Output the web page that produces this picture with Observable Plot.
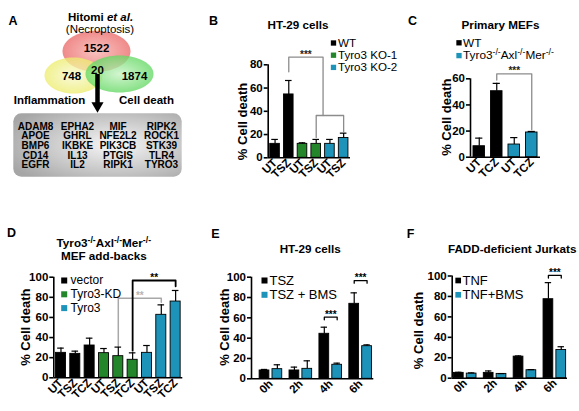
<!DOCTYPE html>
<html>
<head>
<meta charset="utf-8">
<script src="https://cdn.jsdelivr.net/npm/d3@7"></script>
<script src="https://cdn.jsdelivr.net/npm/@observablehq/plot@0.6"></script>
<style>
  html, body { margin: 0; padding: 0; background: #fff; }
  #fig { position: relative; width: 579px; height: 411px; overflow: hidden; background: #fff; }
  #fig svg { position: absolute; left: 0; top: 0; overflow: visible; }
</style>
</head>
<body>
<div id="fig"></div>
<script>
// ===================== DATA =====================
// Panel A – Venn overlap of gene sets
const vennTitle = "Hitomi ~et al.~";
const vennSubtitle = "(Necroptosis)";
const vennCounts = [1522, 748, 1874];          // Necroptosis, Inflammation, Cell death
const vennCore = 20;
const vennSetLabels = ["Inflammation", "Cell death"];
const genes = ["ADAM8","APOE","BMP6","CD14","EGFR",
               "EPHA2","GHRL","IKBKE","IL13","IL2",
               "MIF","NFE2L2","PIK3CB","PTGIS","RIPK1",
               "RIPK2","ROCK1","STK39","TLR4","TYRO3"];

// Panel B – HT-29 cells
const bTitle = "HT-29 cells";
const bSeries = ["WT", "Tyro3 KO-1", "Tyro3 KO-2"];
const bTreat = ["UT", "TSZ"];
const bMeans = [[12, 54.5], [12, 12], [12, 17]];
const bErr   = [[3.8, 12], [0.9, 3.8], [3.8, 4.2]];
const bBrackets = [[[1.5, 74], [1.5, 86.6], [4, 86.6], [4, 36.4]],
                   [[3.5, 17.5], [3.5, 36.4], [5.5, 36.4], [5.5, 22]]];
const bStars = [{x: 2.75, y: 86.6, text: "***"}];

// Panel C – Primary MEFs
const cTitle = "Primary MEFs";
const cSeries = ["WT", "Tyro3^-/-^Axl^-/-^Mer^-/-^"];
const cTreat = ["UT", "TCZ"];
const cMeans = [[8.4, 50.5], [9.7, 18.9]];
const cErr   = [[6.2, 6], [5.3, 0.8]];
const cBrackets = [[[1.5, 59], [1.5, 63.8], [3.5, 63.8], [3.5, 21]]];
const cStars = [{x: 2.5, y: 63.8, text: "***"}];

// Panel D – MEF add-backs
const dTitle = ["Tyro3^-/-^Axl^-/-^Mer^-/-^", "MEF add-backs"];
const dSeries = ["vector", "Tyro3-KD", "Tyro3"];
const dTreat = ["UT", "TSZ", "TCZ"];
const dMeans = [[24.8, 23.8, 32.1], [24.5, 21.5, 17.9], [24.8, 62.6, 75.8]];
const dErr   = [[4.7, 2.7, 7.3], [4.6, 9, 6.9], [7.3, 9.9, 11]];
const dBracketsBlack = [[[5.5, 27], [5.5, 96.7], [8.5, 96.7], [8.5, 91]]];
const dBracketsGrey  = [[[4.5, 32], [4.5, 79.1], [7.5, 79.1], [7.5, 75]]];
const dStarsBlack = [{x: 7, y: 96.7, text: "**"}];
const dStarsGrey  = [{x: 6, y: 79.1, text: "**"}];

// Panel E – HT-29 cells time course
const eTitle = "HT-29 cells";
const eSeries = ["TSZ", "TSZ + BMS"];
const eTimes = ["0h", "2h", "4h", "6h"];
const eMeans = [[8.2, 8.2, 44.3, 73.8], [9.5, 9.8, 13.8, 32.1]];
const eErr   = [[1, 3.3, 6.5, 10.8], [4.3, 7.9, 1.6, 1.3]];
const eSig = [{group: 2, y: 60.7, text: "***"}, {group: 3, y: 96.7, text: "***"}];

// Panel F – FADD-deficient Jurkats
const fTitle = "FADD-deficient Jurkats";
const fSeries = ["TNF", "TNF+BMS"];
const fTimes = ["0h", "2h", "4h", "6h"];
const fMeans = [[5.2, 5.2, 21.1, 77.3], [4.5, 4.2, 7.8, 27.6]];
const fErr   = [[0.6, 1.9, 0.7, 16.2], [0.7, 0.3, 0.6, 3.2]];
const fSig = [{group: 3, y: 100.6, text: "***"}];

const yLabel = "% Cell death";

// ===================== STYLE / LAYOUT =====================
const W = 579, H = 411;
const FONT = "'Liberation Sans', Arial, Helvetica, sans-serif";
const BLACK = "#000000", GREEN = "#23862a", BLUE = "#1d93ba";
const GREY = "#8c8c8c", LGREY = "#a8a8a8";

function barsSequential(means, errs, colors, pad) {
  const out = []; let i = 0;
  means.forEach((row, s) => row.forEach((v, t) => {
    out.push({x1: i + pad, x2: i + 1 - pad, xc: i + 0.5, value: v, top: v + errs[s][t], fill: colors[s]});
    i++;
  }));
  return out;
}
function barsDodged(means, errs, colors, off, hw) {
  const out = [];
  means.forEach((row, s) => row.forEach((v, g) => {
    const xc = g + 0.5 + off[s];
    out.push({x1: xc - hw, x2: xc + hw, xc, value: v, top: v + errs[s][g], fill: colors[s]});
  }));
  return out;
}
function sigBrackets(sig, off, drop) {
  return sig.map(s => {
    const a = s.group + 0.5 + off[0], b = s.group + 0.5 + off[1];
    return [[a, s.y - drop], [a, s.y], [b, s.y], [b, s.y - drop]];
  });
}

function panel(p) {
  const [d0, d1] = p.xDomain;
  const ix = X => d0 + (X - p.left) / (p.right - p.left) * (d1 - d0);
  const iy = Y => (p.bottom - Y) / (p.bottom - p.top) * p.yMax;
  const cap = p.capPx * (d1 - d0) / (p.right - p.left);
  const tickLabel = new Map(p.xTicks.map((v, i) => [v, p.xLabels[i]]));
  const marks = [];
  marks.push(Plot.rect(p.bars, {x1: "x1", x2: "x2", y1: 0, y2: "value", fill: "fill", stroke: "#000", strokeWidth: 0.9}));
  marks.push(Plot.ruleX(p.bars, {x: "xc", y1: "value", y2: "top", stroke: "#000", strokeWidth: 1.2}));
  marks.push(Plot.ruleY(p.bars, {x1: d => d.xc - cap, x2: d => d.xc + cap, y: "top", stroke: "#000", strokeWidth: 1.2}));
  marks.push(Plot.ruleY([0], {stroke: "#000", strokeWidth: 1.6}));
  marks.push(Plot.ruleX([d0], {y1: 0, y2: p.yMax, stroke: "#000", strokeWidth: 1.6}));
  marks.push(Plot.axisY({ticks: p.yTicks, tickSize: 4, tickPadding: 1.5, strokeWidth: 1.6,
    fontSize: 11.5, fontWeight: "bold", fontFamily: FONT, label: null}));
  marks.push(Plot.axisX({ticks: p.xTicks, tickFormat: v => tickLabel.get(v), tickRotate: -45,
    tickSize: 0, tickPadding: 3, fontSize: 11.5, fontWeight: "bold", fontFamily: FONT, label: null}));
  for (const br of p.brackets) {
    const pts = br.sets.flatMap((set, k) => set.map(([x, y]) => ({x, y, k})));
    marks.push(Plot.line(pts, {x: "x", y: "y", z: "k", stroke: br.color, strokeWidth: br.width || 1.3}));
  }
  for (const st of p.stars) {
    marks.push(Plot.text(st.data, {x: "x", y: "y", text: "text", fill: st.color, dy: 0.5,
      lineAnchor: "bottom", fontSize: 10, fontWeight: "bold", fontFamily: FONT}));
  }
  const L = p.legend;
  marks.push(Plot.dot(L.items, {x: () => ix(L.x), y: (d, i) => iy(L.y0 + i * L.dy), symbol: "square",
    r: L.r, fill: (d, i) => L.colors[i], stroke: "none"}));
  marks.push(Plot.text(L.items, {x: () => ix(L.tx), y: (d, i) => iy(L.y0 + i * L.dy), text: d => d,
    textAnchor: "start", fontSize: L.fs, fontFamily: FONT}));
  marks.push(Plot.text(p.title.lines, {x: () => ix(p.title.x), y: (d, i) => iy(p.title.y + i * (p.title.lh || 0)),
    text: d => d, fontSize: 11.7, fontWeight: "bold", fontFamily: FONT}));
  marks.push(Plot.text([p.letter.text], {x: () => ix(p.letter.x), y: () => iy(p.letter.y), text: d => d,
    fontSize: 12.5, fontWeight: "bold", fontFamily: FONT}));
  marks.push(Plot.text([yLabel], {x: () => ix(p.ylab.x), y: () => iy(p.ylab.y), text: d => d, rotate: -90,
    fontSize: 13, fontWeight: "bold", fontFamily: FONT}));
  return Plot.plot({
    width: W, height: H,
    marginLeft: p.left, marginRight: W - p.right, marginTop: p.top, marginBottom: H - p.bottom,
    x: {type: "linear", domain: p.xDomain},
    y: {type: "linear", domain: [0, p.yMax]},
    color: {type: "identity"},
    style: {fontFamily: FONT, background: "transparent", overflow: "visible"},
    marks
  });
}

// ---------- Panel A ----------
function ellipseSymbol(k) {
  const K = 0.5523;
  return {draw(ctx, size) {
    const ry = Math.sqrt(size / Math.PI), rx = ry * k, ox = rx * K, oy = ry * K;
    ctx.moveTo(rx, 0);
    ctx.bezierCurveTo(rx, oy, ox, ry, 0, ry);
    ctx.bezierCurveTo(-ox, ry, -rx, oy, -rx, 0);
    ctx.bezierCurveTo(-rx, -oy, -ox, -ry, 0, -ry);
    ctx.bezierCurveTo(ox, -ry, rx, -oy, rx, 0);
    ctx.closePath();
  }};
}
const arrowHead = {draw(ctx, size) {
  const r = Math.sqrt(size / Math.PI);
  ctx.moveTo(-r * 1.35, -r * 0.75); ctx.lineTo(r * 1.35, -r * 0.75); ctx.lineTo(0, r * 1.6); ctx.closePath();
}};

const vennLayout = {
  ellipses: [
    {cx: 96, cy: 50.8, rx: 34, ry: 20.5, fill: "url(#gRed)"},
    {cx: 73, cy: 75, rx: 29, ry: 18, fill: "url(#gYellow)"},
    {cx: 119, cy: 73.5, rx: 34, ry: 18.5, fill: "url(#gGreen)"}
  ],
  countPos: [[96, 47.5], [71, 76], [134, 76]],
  corePos: [97, 69.5],
  setLabelPos: [[49, 99.5], [146, 99.5]],
  titlePos: [100, 16.5], subtitlePos: [99.5, 28.5],
  arrow: {x: 97, y1: 74, y2: 103, head: 105},
  box: {x1: 13.3, x2: 181.7, y1: 113.3, y2: 176.7},
  geneCols: [35, 77, 117.5, 161], geneRows: [126, 135.7, 145.3, 155, 164.7]
};

function panelA() {
  const V = vennLayout;
  const t = {fontFamily: FONT};
  const marks = [];
  V.ellipses.forEach(e => marks.push(Plot.dot([e], {x: "cx", y: "cy", r: e.ry, symbol: ellipseSymbol(e.rx / e.ry),
    fill: e.fill, fillOpacity: 0.78, stroke: "none"})));
  marks.push(Plot.text(vennCounts, {x: (d, i) => V.countPos[i][0], y: (d, i) => V.countPos[i][1], text: d => String(d),
    fontSize: 11.5, fontWeight: "bold", ...t}));
  marks.push(Plot.text([vennCore], {x: () => V.corePos[0], y: () => V.corePos[1], text: d => String(d),
    fontSize: 11.5, fontWeight: "bold", ...t}));
  marks.push(Plot.ruleX([V.arrow.x], {y1: V.arrow.y1, y2: V.arrow.y2, stroke: "#000", strokeWidth: 4.5}));
  marks.push(Plot.dot([V.arrow], {x: "x", y: "head", r: 4.5, symbol: arrowHead, fill: "#000", stroke: "none"}));
  marks.push(Plot.text(vennSetLabels, {x: (d, i) => V.setLabelPos[i][0], y: (d, i) => V.setLabelPos[i][1], text: d => d,
    fontSize: 11.5, fontWeight: "bold", ...t}));
  marks.push(Plot.text([vennTitle], {x: () => V.titlePos[0], y: () => V.titlePos[1], text: d => d,
    fontSize: 11.5, fontWeight: "bold", ...t}));
  marks.push(Plot.text([vennSubtitle], {x: () => V.subtitlePos[0], y: () => V.subtitlePos[1], text: d => d,
    fontSize: 11.5, ...t}));
  marks.push(Plot.rect([V.box], {x1: "x1", x2: "x2", y1: "y1", y2: "y2", rx: 8, fill: "url(#gBox)", stroke: "none"}));
  marks.push(Plot.text(genes, {x: (d, i) => V.geneCols[Math.floor(i / 5)], y: (d, i) => V.geneRows[i % 5],
    text: d => d, fontSize: 10, fontWeight: "bold", ...t}));
  marks.push(Plot.text(["A"], {x: () => 12.5, y: () => 20, text: d => d, fontSize: 12.5, fontWeight: "bold", ...t}));
  const svg = Plot.plot({
    width: W, height: H, margin: 0,
    x: {domain: [0, W], axis: null}, y: {domain: [H, 0], axis: null},
    style: {fontFamily: FONT, background: "transparent", overflow: "visible"},
    marks
  });
  const defs = d3.select(svg).insert("defs", ":first-child");
  const grad = (id, c0, c1, cx = "50%", cy = "50%", r = "55%") => {
    const g = defs.append("radialGradient").attr("id", id).attr("cx", cx).attr("cy", cy).attr("r", r);
    g.append("stop").attr("offset", "0%").attr("stop-color", c0);
    g.append("stop").attr("offset", "100%").attr("stop-color", c1);
  };
  grad("gRed", "#f6b2ae", "#ea6262");
  grad("gYellow", "#f8f8d2", "#ecec66");
  grad("gGreen", "#c6f2c2", "#5ad65a");
  grad("gBox", "#f7f7f7", "#a6a6a6", "60%", "50%", "70%");
  return svg;
}

// rich text: ^...^ superscript, ~...~ italic
function richText(svg) {
  svg.querySelectorAll("text, tspan").forEach(el => {
    if (el.children.length) return;
    const s = el.textContent;
    if (!/[\^~]/.test(s)) return;
    const holder = el.closest("[font-size]");
    const fs = parseFloat((holder && holder.getAttribute("font-size")) || 11);
    el.textContent = "";
    const parts = s.split(/(\^[^\^]*\^|~[^~]*~)/).filter(Boolean);
    let raised = false;
    for (const part of parts) {
      const t = document.createElementNS("http://www.w3.org/2000/svg", "tspan");
      if (part[0] === "^") {
        t.textContent = part.slice(1, -1);
        t.setAttribute("font-size", (fs * 0.74).toFixed(2));
        if (!raised) t.setAttribute("dy", (-fs * 0.33).toFixed(2));
        raised = true;
      } else {
        t.textContent = part[0] === "~" ? part.slice(1, -1) : part;
        if (part[0] === "~") t.setAttribute("font-style", "italic");
        if (raised) { t.setAttribute("dy", (fs * 0.33).toFixed(2)); raised = false; }
      }
      el.appendChild(t);
    }
  });
}

// ===================== BUILD =====================
const fig = document.getElementById("fig");
const panels = [];
panels.push(panelA());

panels.push(panel({
  left: 267.7, right: 350, top: 64.3, bottom: 157.3, xDomain: [0, 6], yMax: 80, yTicks: [0, 20, 40, 60, 80],
  capPx: 3.3,
  bars: barsSequential(bMeans, bErr, [BLACK, GREEN, BLUE], 0.15),
  xTicks: d3.range(6).map(i => i + 0.5), xLabels: bSeries.flatMap(() => bTreat),
  brackets: [{sets: bBrackets, color: GREY, width: 1.3}],
  stars: [{data: bStars, color: "#222"}],
  legend: {items: bSeries, colors: [BLACK, GREEN, BLUE], x: 333, y0: 42.5, dy: 12.2, r: 3, tx: 337.5, fs: 11.6},
  title: {lines: [bTitle], x: 297.5, y: 25}, letter: {text: "B", x: 213, y: 20}, ylab: {x: 242.7, y: 121}
}));

panels.push(panel({
  left: 470, right: 540, top: 78.3, bottom: 156.7, xDomain: [0, 4], yMax: 60, yTicks: [0, 20, 40, 60],
  capPx: 3.6,
  bars: barsSequential(cMeans, cErr, [BLACK, BLUE], 0.17),
  xTicks: d3.range(4).map(i => i + 0.5), xLabels: cSeries.flatMap(() => cTreat),
  brackets: [{sets: cBrackets, color: GREY, width: 1.3}],
  stars: [{data: cStars, color: "#222"}],
  legend: {items: cSeries, colors: [BLACK, BLUE], x: 458.5, y0: 42.3, dy: 12.8, r: 3, tx: 462.5, fs: 11.8},
  title: {lines: [cTitle], x: 500, y: 25}, letter: {text: "C", x: 412, y: 20}, ylab: {x: 446.5, y: 116.7}
}));

panels.push(panel({
  left: 53.3, right: 182.3, top: 276.7, bottom: 377.3, xDomain: [0, 9], yMax: 100, yTicks: [0, 20, 40, 60, 80, 100],
  capPx: 3.3,
  bars: barsSequential(dMeans, dErr, [BLACK, GREEN, BLUE], 0.15),
  xTicks: d3.range(9).map(i => i + 0.5), xLabels: dSeries.flatMap(() => dTreat),
  brackets: [{sets: dBracketsGrey, color: LGREY, width: 1.5}, {sets: dBracketsBlack, color: BLACK, width: 1.8}],
  stars: [{data: dStarsGrey, color: "#b5b5b5"}, {data: dStarsBlack, color: "#000"}],
  legend: {items: dSeries, colors: [BLACK, GREEN, BLUE], x: 63.7, y0: 280, dy: 13.8, r: 3.4, tx: 70, fs: 12},
  title: {lines: dTitle, x: 103.3, y: 243, lh: 12.5}, letter: {text: "D", x: 11, y: 232}, ylab: {x: 25, y: 326.7}
}));

const dodge = [-0.215, 0.215];
panels.push(panel({
  left: 251, right: 373.3, top: 276.7, bottom: 378.3, xDomain: [-0.15, 3.94], yMax: 100, yTicks: [0, 20, 40, 60, 80, 100],
  capPx: 3.2,
  bars: barsDodged(eMeans, eErr, [BLACK, BLUE], dodge, 0.163),
  xTicks: eTimes.map((t, g) => g + 0.5), xLabels: eTimes,
  brackets: [{sets: sigBrackets(eSig, dodge, 2.6), color: BLACK, width: 1.3}],
  stars: [{data: eSig.map(s => ({x: s.group + 0.5, y: s.y, text: s.text})), color: "#000"}],
  legend: {items: eSeries, colors: [BLACK, BLUE], x: 264, y0: 280, dy: 14.3, r: 3.4, tx: 269, fs: 13},
  title: {lines: [eTitle], x: 309.7, y: 248.3}, letter: {text: "E", x: 215, y: 233.3}, ylab: {x: 224.3, y: 326.7}
}));

panels.push(panel({
  left: 451.7, right: 567, top: 275.5, bottom: 377.7, xDomain: [0.064, 3.924], yMax: 100, yTicks: [0, 20, 40, 60, 80, 100],
  capPx: 3.2,
  bars: barsDodged(fMeans, fErr, [BLACK, BLUE], dodge, 0.163),
  xTicks: fTimes.map((t, g) => g + 0.5), xLabels: fTimes,
  brackets: [{sets: sigBrackets(fSig, dodge, 2.6), color: BLACK, width: 1.3}],
  stars: [{data: fSig.map(s => ({x: s.group + 0.5, y: s.y, text: s.text})), color: "#000"}],
  legend: {items: fSeries, colors: [BLACK, BLUE], x: 457.7, y0: 280, dy: 14.3, r: 3.2, tx: 462, fs: 13},
  title: {lines: [fTitle], x: 511.7, y: 248.3}, letter: {text: "F", x: 410, y: 233.3}, ylab: {x: 418.3, y: 330}
}));

panels.forEach(svg => { richText(svg); fig.appendChild(svg); });
</script>
</body>
</html>
